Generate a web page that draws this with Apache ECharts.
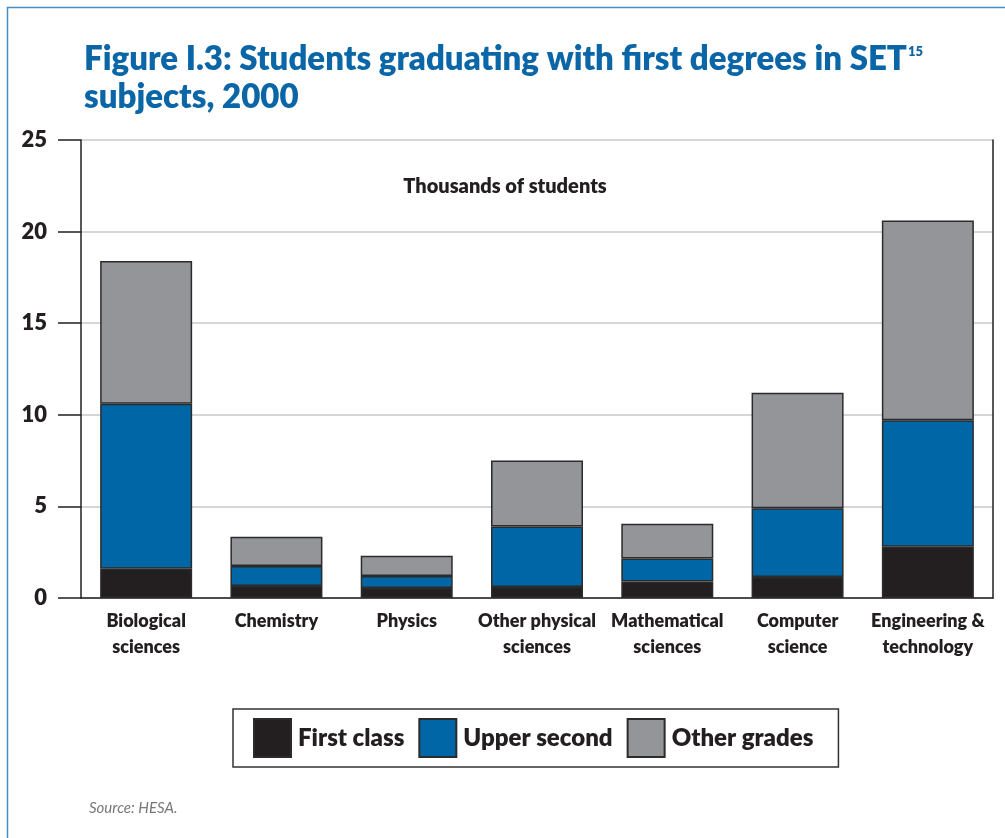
<!DOCTYPE html>
<html lang="en">
<head>
    <meta charset="UTF-8">
    <title>Figure I.3</title>
    <style>
      html, body { margin: 0; padding: 0; background: #fff; }
    </style>
</head>
<body>
    <div id="main" style="width: 1005px; height: 838px;"></div>
    <script src="https://cdn.jsdelivr.net/npm/echarts@6/dist/echarts.min.js"></script>
    <script>
      // data (thousands of students)
      const categories = [
        'Biological\nsciences', 'Chemistry', 'Physics', 'Other physical\nsciences',
        'Mathematical\nsciences', 'Computer\nscience', 'Engineering &\ntechnology'
      ];
      const firstClass   = [1.6, 0.65, 0.55, 0.6, 0.9, 1.15, 2.8];
      const upperSecond  = [9.0, 1.1, 0.65, 3.3, 1.25, 3.75, 6.9];
      const otherGrades  = [7.8, 1.6, 1.1, 3.6, 1.9, 6.3, 10.9];
      const yTicks = [0, 5, 10, 15, 20, 25];

      var chartDom = document.getElementById('main');
      var myChart = echarts.init(chartDom);
      var option;

      const font = 'Lato, "Open Sans", sans-serif';
      const heavy = 800;
      const barBorder = { borderColor: '#2b2b2b', borderWidth: 1.5 };

      option = {
        backgroundColor: '#fff',
        animation: false,
        textStyle: { fontFamily: font },
        title: [
          {
            left: 84,
            top: 40,
            padding: 0,
            text: '{a|Figure I.3: Students graduating with first degrees in SET}{sup|15}\n{a|subjects, 2000}',
            textStyle: {
              rich: {
                a: { fontFamily: font, fontSize: 33, fontWeight: heavy, color: '#0a66a6', lineHeight: 38 },
                sup: { fontFamily: font, fontSize: 13, fontWeight: heavy, color: '#0a66a6', verticalAlign: 'top', lineHeight: 38, padding: [5, 0, 0, 1] }
              }
            }
          },
          {
            text: 'Thousands of students',
            left: 500,
            top: 172,
            textAlign: 'center',
            textStyle: { fontFamily: font, fontSize: 20, fontWeight: heavy, color: '#231f20' }
          },
          {
            text: 'Source: HESA.',
            left: 84,
            top: 796,
            textStyle: { fontFamily: font, fontSize: 15, fontStyle: 'italic', fontWeight: 'normal', color: '#777' }
          }
        ],
        graphic: [
          {
            type: 'rect',
            shape: { x: 7.5, y: 7.5, width: 1010, height: 850 },
            style: { fill: 'none', stroke: '#4a8fc4', lineWidth: 1.5 },
            silent: true
          }
        ],
        legend: {
          data: ['First class', 'Upper second', 'Other grades'],
          left: 233,
          top: 709,
          padding: [9, 25, 9, 20],
          borderColor: '#333',
          borderWidth: 1.5,
          itemWidth: 37,
          itemHeight: 38,
          itemGap: 14,
          icon: 'rect',
          textStyle: { fontFamily: font, fontSize: 24, fontWeight: heavy, color: '#231f20', padding: [2, 0, 0, 2] }
        },
        grid: {
          left: 81,
          right: 12,
          top: 140,
          bottom: 240
        },
        xAxis: [
          {
            type: 'category',
            data: categories,
            axisLine: { lineStyle: { color: '#231f20', width: 1.5 } },
            axisTick: { length: 12, lineStyle: { color: '#231f20', width: 1.5 } },
            axisLabel: {
              interval: 0,
              margin: 10,
              fontFamily: font,
              fontSize: 18,
              fontWeight: heavy,
              color: '#231f20',
              lineHeight: 26
            }
          }
        ],
        yAxis: [
          {
            type: 'value',
            min: yTicks[0],
            max: yTicks[yTicks.length - 1],
            interval: 5,
            axisLine: { show: true, lineStyle: { color: '#231f20', width: 1.5 } },
            axisTick: { show: true, length: 23, lineStyle: { color: '#231f20', width: 1.5 } },
            axisLabel: {
              margin: 34,
              fontFamily: font,
              fontSize: 22,
              fontWeight: heavy,
              color: '#231f20'
            },
            splitLine: { lineStyle: { color: '#c8c8c8', width: 1.5 } }
          },
          {
            type: 'value',
            position: 'right',
            min: 0,
            max: 25,
            interval: 5,
            axisLine: { show: true, lineStyle: { color: '#231f20', width: 1.5 } },
            axisTick: { show: false },
            axisLabel: { show: false },
            splitLine: { show: false }
          }
        ],
        series: [
          {
            name: 'First class',
            type: 'bar',
            stack: 'total',
            barWidth: 92,
            itemStyle: Object.assign({ color: '#231f20' }, barBorder),
            data: firstClass
          },
          {
            name: 'Upper second',
            type: 'bar',
            stack: 'total',
            barWidth: 92,
            itemStyle: Object.assign({ color: '#0066a6' }, barBorder),
            data: upperSecond
          },
          {
            name: 'Other grades',
            type: 'bar',
            stack: 'total',
            barWidth: 92,
            itemStyle: Object.assign({ color: '#939598' }, barBorder),
            data: otherGrades
          }
        ]
      };

      option && myChart.setOption(option);
    </script>
</body>
</html>
